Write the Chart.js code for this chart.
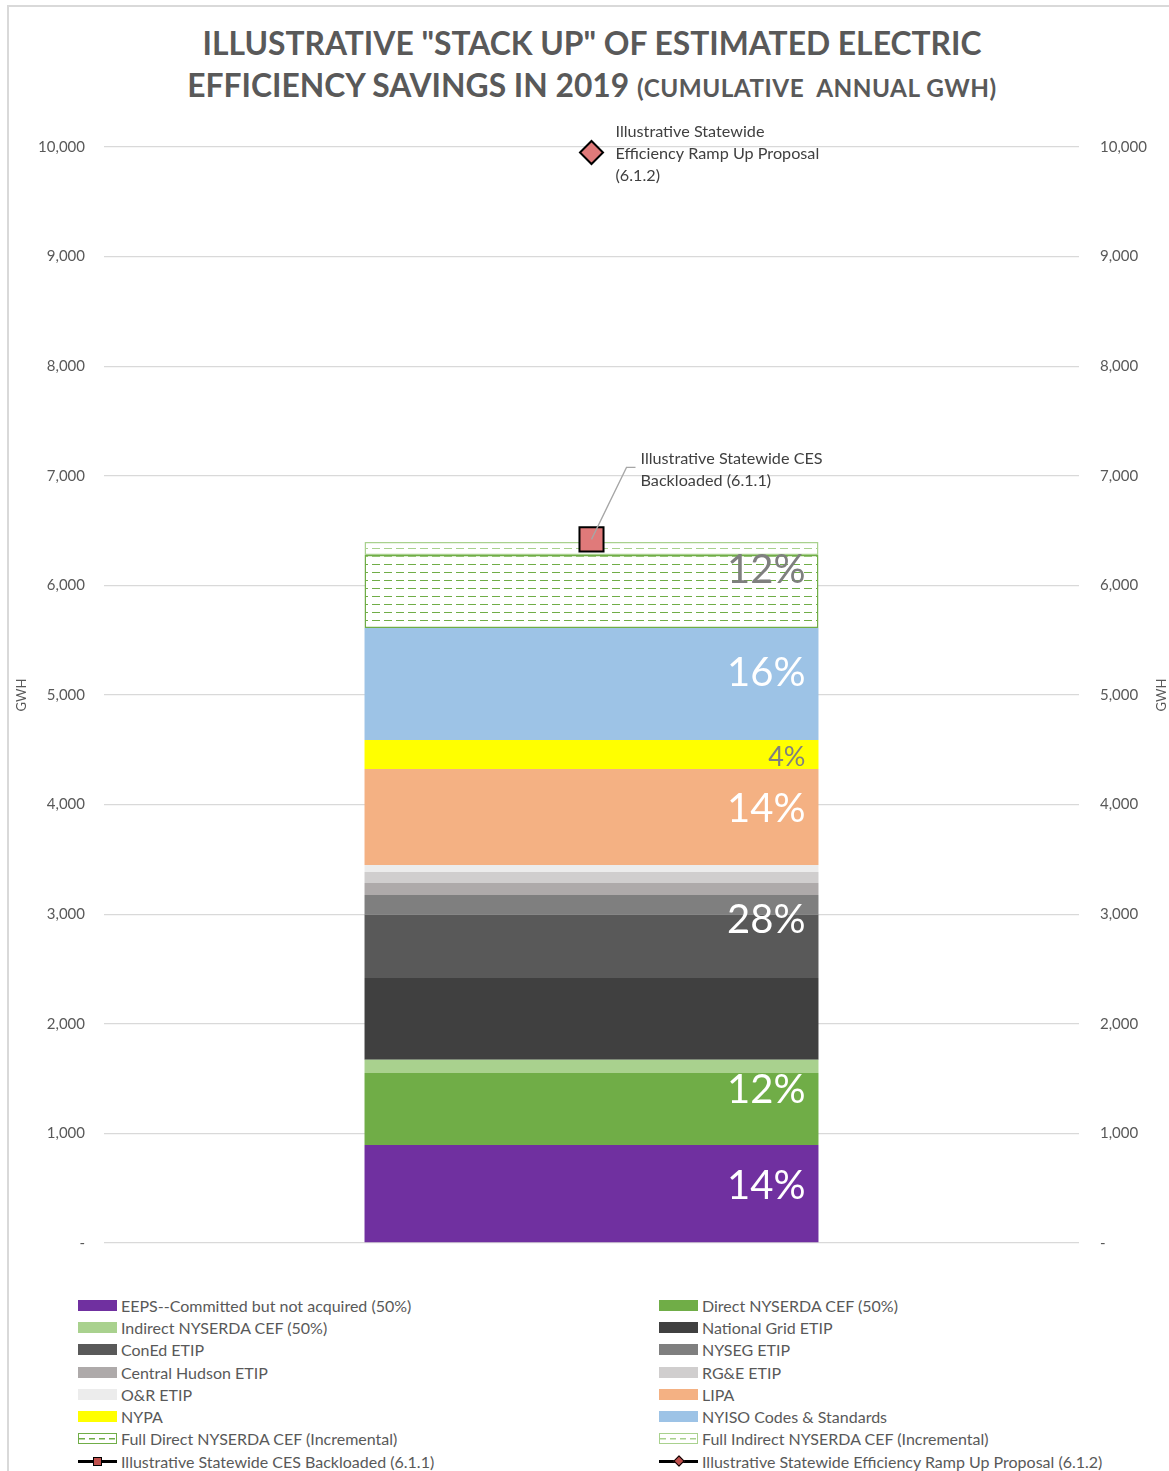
<!DOCTYPE html>
<html>
<head>
<meta charset="utf-8">
<title>Stack up of estimated electric efficiency savings in 2019</title>
<script src="https://cdn.jsdelivr.net/npm/chart.js@4.4.1/dist/chart.umd.min.js"></script>
<style>
  body { margin: 0; background: #fff; font-family: Lato, "Open Sans", sans-serif; }
  #frame { position: absolute; left: 7px; top: 5px; width: 1200px; height: 1500px;
           border-left: 2px solid #d9d9d9; border-top: 2px solid #d9d9d9; }
  #title { position: absolute; left: 0; top: 22px; width: 1184px; text-align: center;
           color: #595959; font-weight: bold; font-size: 31.8px; line-height: 42px; }
  #title .sub { font-size: 24.3px; letter-spacing: 0.5px; }
  #chart-box { position: absolute; left: 0; top: 0; width: 1169px; height: 1290px; }
  #legend { position: absolute; left: 78px; top: 1294px; display: grid;
            grid-template-columns: 581px 520px; grid-auto-rows: 22.3px;
            color: #595959; font-size: 16px; }
  .item { display: flex; align-items: center; white-space: nowrap; }
  .sw { width: 39px; height: 11px; margin-right: 4px; box-sizing: border-box; position: relative; flex: none; }
  .sw.line::before { content: ''; position: absolute; left: 0; right: 0; top: 4px; height: 3px; background: #000; }
  .sw .mk { position: absolute; left: 15px; top: 1px; width: 9px; height: 9px; box-sizing: border-box;
            border: 1.5px solid #000; background: #c0504d; }
  .sw .mk.dia { transform: rotate(45deg); width: 8px; height: 8px; top: 1.5px; left: 15.5px; }
</style>
</head>
<body>
<div id="frame"></div>
<div id="title">ILLUSTRATIVE "STACK UP" OF ESTIMATED ELECTRIC<br>EFFICIENCY SAVINGS IN 2019 <span class="sub">(CUMULATIVE&nbsp; ANNUAL GWH)</span></div>
<div id="chart-box"><canvas id="stack-chart" width="1169" height="1290"></canvas></div>
<div id="legend"></div>
<script>
// --- Данные графика (GWh, 2019) ---
const categories = ['2019'];

const seriesNames = [
    'EEPS--Committed but not acquired (50%)',
    'Direct NYSERDA CEF (50%)',
    'Indirect NYSERDA CEF (50%)',
    'National Grid ETIP',
    'ConEd ETIP',
    'NYSEG ETIP',
    'Central Hudson ETIP',
    'RG&E ETIP',
    'O&R ETIP',
    'LIPA',
    'NYPA',
    'NYISO Codes & Standards',
    'Full Direct NYSERDA CEF (Incremental)',
    'Full Indirect NYSERDA CEF (Incremental)'
];
const seriesValues = [895, 657, 119, 748, 575, 182, 109, 100, 64, 876, 265, 1022, 666, 119];
const seriesColors = ['#7030a0', '#70ad47', '#a9d18e', '#404040', '#595959', '#7f7f7f',
                      '#aeaaaa', '#d0cece', '#ececec', '#f4b183', '#ffff00', '#9dc3e6',
                      '#70ad47', '#a9d18e'];

const backloadedName = 'Illustrative Statewide CES Backloaded (6.1.1)';
const backloadedValue = [6420];
const rampUpName = 'Illustrative Statewide Efficiency Ramp Up Proposal (6.1.2)';
const rampUpValue = [9950];

const yTickLabels = ['-', '1,000', '2,000', '3,000', '4,000', '5,000',
                     '6,000', '7,000', '8,000', '9,000', '10,000'];

// подписи процентов и сегмент, внутри которого они стоят
const pctLabels = ['14%', '12%', '28%', '14%', '4%', '16%', '12%'];
const pctSeries = [0, 1, 4, 9, 10, 11, 12];

const FONT = 'Lato, "Open Sans", sans-serif';
const TEXT = '#595959';

// штриховка для "Full ... (Incremental)"
function makeHatch(color) {
    const c = document.createElement('canvas');
    c.width = 12; c.height = 8;
    const g = c.getContext('2d');
    g.fillStyle = '#fff';
    g.fillRect(0, 0, 12, 8);
    g.fillStyle = color;
    g.fillRect(0, 4, 8, 1);
    return g.createPattern(c, 'repeat');
}

const barDatasets = seriesNames.map((name, i) => {
    const hatched = i >= 12;
    return {
        type: 'bar',
        label: name,
        data: [seriesValues[i]],
        backgroundColor: hatched ? makeHatch(seriesColors[i]) : seriesColors[i],
        borderColor: seriesColors[i],
        borderWidth: hatched ? 1.5 : 0,
        borderSkipped: false,
        swatch: hatched ? 'hatch' : 'fill',
        swatchColor: seriesColors[i],
        stack: 'total',
        yAxisID: 'y'
    };
});

const pointDatasets = [
    { type: 'line', label: backloadedName, data: backloadedValue, yAxisID: 'y2', order: -1, clip: false,
      showLine: false, pointStyle: 'rect', pointRadius: 17, pointHoverRadius: 17,
      pointBackgroundColor: '#e07a7a', pointBorderColor: '#000', pointBorderWidth: 2,
      swatch: 'rect' },
    { type: 'line', label: rampUpName, data: rampUpValue, yAxisID: 'y2', order: -1, clip: false,
      showLine: false, pointStyle: 'rectRot', pointRadius: 11.5, pointHoverRadius: 11.5,
      pointBackgroundColor: '#e07a7a', pointBorderColor: '#000', pointBorderWidth: 2,
      swatch: 'diamond' }
];

// --- Плагин: подписи процентов внутри столбца ---
const pctLabelPlugin = {
    id: 'pctLabels',
    afterDatasetsDraw(chart, args, opts) {
        const ctx = chart.ctx;
        ctx.save();
        ctx.textAlign = 'right';
        ctx.textBaseline = 'middle';
        pctLabels.forEach((txt, i) => {
            const bar = chart.getDatasetMeta(pctSeries[i]).data[0];
            const y = (bar.y + bar.base) / 2 + opts.nudge[i];
            ctx.font = `${opts.size[i]}px ${FONT}`;
            ctx.fillStyle = opts.color[i];
            ctx.fillText(txt, bar.x + bar.width / 2 - 13, y);
        });
        ctx.restore();
    }
};

// --- Плагин: выноски у точек и заголовки осей GWH ---
const calloutPlugin = {
    id: 'callouts',
    afterDatasetsDraw(chart) {
        const ctx = chart.ctx;
        const area = chart.chartArea;
        ctx.save();
        ctx.font = `16.2px ${FONT}`;
        ctx.fillStyle = '#404040';
        ctx.textBaseline = 'middle';
        ctx.textAlign = 'left';

        const sq = chart.getDatasetMeta(14).data[0];
        ctx.strokeStyle = '#a6a6a6';
        ctx.lineWidth = 1.3;
        ctx.beginPath();
        ctx.moveTo(sq.x, sq.y);
        ctx.lineTo(sq.x + 35, sq.y - 72);
        ctx.lineTo(sq.x + 44, sq.y - 72);
        ctx.stroke();
        ctx.fillText('Illustrative Statewide CES', sq.x + 49, sq.y - 81);
        ctx.fillText('Backloaded (6.1.1)', sq.x + 49, sq.y - 59);

        const dm = chart.getDatasetMeta(15).data[0];
        ctx.fillText('Illustrative Statewide', dm.x + 24, dm.y - 21);
        ctx.fillText('Efficiency Ramp Up Proposal', dm.x + 24, dm.y + 1);
        ctx.fillText('(6.1.2)', dm.x + 24, dm.y + 23);

        // заголовки осей
        ctx.font = `13px ${FONT}`;
        ctx.fillStyle = TEXT;
        ctx.textAlign = 'center';
        const midY = (area.top + area.bottom) / 2;
        [22, 1162].forEach(x => {
            ctx.save();
            ctx.translate(x, midY);
            ctx.rotate(-Math.PI / 2);
            ctx.fillText('GWH', 0, 0);
            ctx.restore();
        });
        ctx.restore();
    }
};

const tickFont = { family: FONT, size: 15 };

const chart = new Chart(document.getElementById('stack-chart'), {
    data: {
        labels: categories,
        datasets: [...barDatasets, ...pointDatasets]
    },
    options: {
        responsive: false,
        animation: false,
        devicePixelRatio: 1,
        layout: { padding: { top: 147, bottom: 47, left: 0, right: 0 } },
        plugins: {
            legend: { display: false },
            tooltip: { enabled: false },
            title: { display: false },
            pctLabels: {
                nudge: [-8, -19, -26, -8, 3, -11, -21],
                size: [40, 40, 40, 40, 27, 40, 40],
                color: ['#fff', '#fff', '#fff', '#fff', '#7f7f7f', '#fff', '#7f7f7f']
            }
        },
        scales: {
            x: {
                stacked: true,
                display: false,
                categoryPercentage: 1
            },
            y: {
                stacked: true,
                position: 'left',
                min: 0,
                max: 10000,
                ticks: {
                    stepSize: 1000,
                    padding: 19,
                    color: TEXT,
                    font: tickFont,
                    callback: (v, i) => yTickLabels[i]
                },
                grid: { color: '#d9d9d9', lineWidth: 1.3, drawTicks: false },
                border: { display: false },
                afterFit: s => { s.width = 104; }
            },
            y2: {
                position: 'right',
                min: 0,
                max: 10000,
                ticks: {
                    stepSize: 1000,
                    padding: 21,
                    color: TEXT,
                    font: tickFont,
                    callback: (v, i) => yTickLabels[i]
                },
                grid: { display: false, drawTicks: false },
                border: { display: false },
                afterFit: s => { s.width = 90; }
            }
        },
        datasets: {
            bar: { barPercentage: 0.4656, categoryPercentage: 1 }
        }
    },
    plugins: [pctLabelPlugin, calloutPlugin]
});

// --- HTML-легенда в две колонки, из наборов данных ---
const legendEl = document.getElementById('legend');
chart.data.datasets.forEach(ds => {
    const item = document.createElement('div');
    item.className = 'item';
    const sw = document.createElement('span');
    sw.className = 'sw';
    if (ds.swatch === 'fill') {
        sw.style.background = ds.swatchColor;
    } else if (ds.swatch === 'hatch') {
        sw.style.border = `1.5px solid ${ds.swatchColor}`;
        sw.style.backgroundImage = `repeating-linear-gradient(90deg, ${ds.swatchColor} 0 6px, transparent 6px 10px)`;
        sw.style.backgroundSize = '100% 1.5px';
        sw.style.backgroundRepeat = 'no-repeat';
        sw.style.backgroundPosition = '0 50%';
    } else {
        sw.classList.add('line');
        const mk = document.createElement('span');
        mk.className = ds.swatch === 'diamond' ? 'mk dia' : 'mk';
        sw.appendChild(mk);
    }
    const txt = document.createElement('span');
    txt.textContent = ds.label;
    item.appendChild(sw);
    item.appendChild(txt);
    legendEl.appendChild(item);
});
</script>
</body>
</html>
